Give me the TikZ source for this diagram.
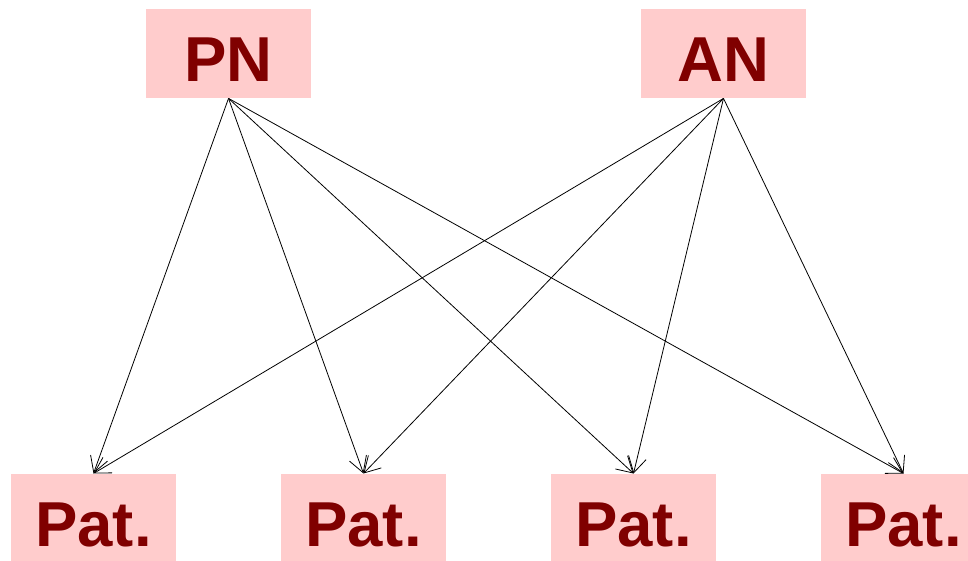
\documentclass[tikz,border=0pt]{standalone}
\usepackage{fontspec}
\setmainfont{Liberation Sans}
\usetikzlibrary{arrows.meta}
\definecolor{boxfill}{HTML}{FFCCCC}
\definecolor{boxtext}{HTML}{800000}
\tikzset{
  lbl/.style={fill=boxfill, text=boxtext, font=\fontsize{63.5}{64}\selectfont\bfseries,
    inner sep=0pt, minimum width=165pt, text height=72.5pt, text depth=16.5pt, anchor=north},
  link/.style={draw=black, line width=0.8pt, -{Straight Barb[length=15.6pt, width=18pt, line width=0.8pt]}}
}
\begin{document}
\begin{tikzpicture}[x=1pt,y=1pt]
\useasboundingbox (0,0) rectangle (968,560);
\node[lbl] (pn) at (228.5,551) {PN};
\node[lbl] (an) at (723.5,551) {AN};
\node[lbl] (p1) at (93.5,86.5) {Pat.};
\node[lbl] (p2) at (363.5,86.5) {Pat.};
\node[lbl] (p3) at (633.5,86.5) {Pat.};
\node[lbl] (p4) at (903.5,86.5) {Pat.};
\foreach \s in {pn,an}{
  \foreach \t in {p1,p2,p3,p4}{
    \draw[link] (\s.south) -- (\t.north);
  }
}
\end{tikzpicture}
\end{document}
